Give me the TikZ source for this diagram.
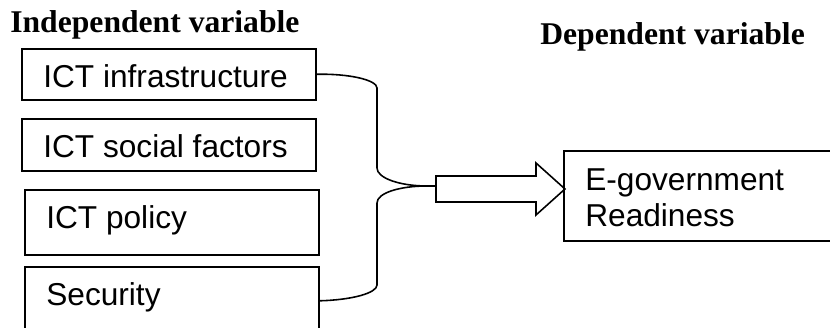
\documentclass[tikz,border=0pt]{standalone}
\usepackage{fontspec}
\setmainfont{Liberation Serif}
\setsansfont{Liberation Sans}
\begin{document}
\begin{tikzpicture}[
    varbox/.style={draw, line width=0.9pt, anchor=north west, minimum width=5.88cm, inner sep=0pt},
    vartext/.style={anchor=base west, inner sep=0pt, font=\sffamily\fontsize{18}{21}\selectfont},
    heading/.style={anchor=base west, inner sep=0pt, font=\bfseries\fontsize{18}{21}\selectfont}]
  \useasboundingbox (0,0) rectangle (16.6,6.56);
  \clip (0,0) rectangle (16.6,6.56);
  \node[heading] (indep) at (0.2,5.9) {Independent variable};
  \node[heading] (dep) at (10.8,5.66) {Dependent variable};
  % independent variables
  \node[varbox, minimum height=1.02cm] (infra) at (0.42,5.6) {};
  \node[varbox, minimum height=1.04cm] (social) at (0.42,4.2) {};
  \node[varbox, minimum height=1.3cm] (policy) at (0.48,2.78) {};
  \node[varbox, minimum height=1.36cm] (sec) at (0.48,1.24) {};
  \node[vartext] (infra-t) at ([shift={(0.44,-0.8)}]infra.north west) {ICT infrastructure};
  \node[vartext] (social-t) at ([shift={(0.44,-0.8)}]social.north west) {ICT social factors};
  \node[vartext] (policy-t) at ([shift={(0.44,-0.8)}]policy.north west) {ICT policy};
  \node[vartext] (sec-t) at ([shift={(0.44,-0.8)}]sec.north west) {Security};
  % dependent variable (base anchor sits on the last line)
  \node[varbox, minimum width=5.54cm, minimum height=1.8cm] (egov) at (11.26,3.56) {};
  \node[vartext, align=left] (egov-t) at ([shift={(0.44,-1.54)}]egov.north west) {E-government\\Readiness};
  % brace joining the four boxes
  \coordinate (join) at (8.54,2.84);
  \draw[line width=0.9pt] (infra.east) .. controls (6.98,5.09) and (7.54,4.96) .. (7.54,4.8)
    -- (7.54,3.2) .. controls (7.54,3.0) and (7.99,2.84) .. (join);
  \draw[line width=0.9pt] (join) .. controls (7.99,2.84) and (7.54,2.7) .. (7.54,2.5)
    -- (7.54,0.86) .. controls (7.54,0.7) and (7.04,0.56) .. (sec.east);
  % block arrow
  \coordinate (tail) at (8.72,2.84);
  \draw[line width=0.9pt] (join) -- (tail);
  \draw[line width=0.9pt] (8.72,3.04) -- (10.72,3.04) -- (10.72,3.3) -- (11.3,2.78)
    -- (10.72,2.26) -- (10.72,2.52) -- (8.72,2.52) -- cycle;
\end{tikzpicture}
\end{document}
